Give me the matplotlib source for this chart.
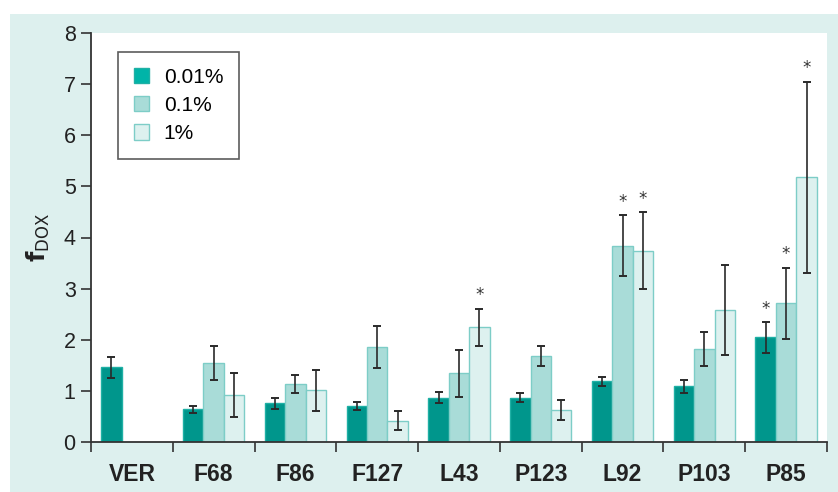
import matplotlib
matplotlib.use("Agg")
import matplotlib.pyplot as plt
from matplotlib.patches import Rectangle, Patch
import numpy as np

categories = ["VER", "F68", "F86", "F127", "L43", "P123", "L92", "P103", "P85"]
series_labels = ["0.01%", "0.1%", "1%"]

# mean fDOX per concentration (None = not measured)
vals_001 = [1.46, 0.64, 0.76, 0.71, 0.87, 0.87, 1.19, 1.09, 2.05]
vals_01 = [None, 1.54, 1.14, 1.85, 1.34, 1.68, 3.84, 1.82, 2.71]
vals_1 = [None, 0.91, 1.01, 0.42, 2.24, 0.63, 3.74, 2.58, 5.18]

err_001 = [0.21, 0.07, 0.11, 0.08, 0.11, 0.08, 0.09, 0.13, 0.30]
err_01 = [None, 0.33, 0.18, 0.41, 0.46, 0.19, 0.60, 0.33, 0.70]
err_1 = [None, 0.43, 0.40, 0.18, 0.37, 0.20, 0.75, 0.88, 1.87]

# significance markers
sig_001 = [False, False, False, False, False, False, False, False, True]
sig_01 = [False, False, False, False, False, False, True, False, True]
sig_1 = [False, False, False, False, True, False, True, False, True]

yticks = [0, 1, 2, 3, 4, 5, 6, 7, 8]

face_colors = ["#00968c", "#a9dcd8", "#ddf1ef"]
edge_colors = ["#1fb0a5", "#7dcdc7", "#7dcdc7"]
legend_face = ["#00b4a8", "#a9dcd8", "#ddf1ef"]
panel_color = "#ddf0ee"

fig = plt.figure(figsize=(8.38, 4.92), dpi=100)
fig.patch.set_facecolor("white")
panel = Rectangle((10 / 838, 0), 1 - 10 / 838, 1 - 14 / 492,
                  transform=fig.transFigure, facecolor=panel_color,
                  edgecolor="none", zorder=-10)
fig.add_artist(panel)

ax = fig.add_axes([91 / 838, 1 - 442 / 492, (827 - 91) / 838, (442 - 33) / 492])
ax.set_facecolor("white")
ax.set_zorder(1)

x = np.arange(len(categories))
w = 0.25
series = [(vals_001, err_001, sig_001), (vals_01, err_01, sig_01), (vals_1, err_1, sig_1)]
for i, (vals, errs, sigs) in enumerate(series):
    offs = (i - 1) * w
    for j, (v, e, s) in enumerate(zip(vals, errs, sigs)):
        if v is None:
            continue
        xpos = x[j] + offs
        if j == 0:
            xpos = x[j] - w  # reference compound bar
        ax.bar(xpos, v, width=w, color=face_colors[i], edgecolor=edge_colors[i],
               linewidth=1.0, zorder=2)
        ax.errorbar(xpos, v, yerr=e, fmt="none", ecolor="#2a2a2a",
                    elinewidth=1.2, capsize=3, capthick=1.4, zorder=3)
        if s:
            ax.annotate("*", (xpos, v + e), xytext=(0, 3), textcoords="offset points",
                        ha="center", va="bottom", fontsize=12, color="#333333")

ax.set_xlim(-0.5, len(categories) - 0.5)
ax.set_ylim(0, 8)
ax.set_yticks(yticks)
ax.set_yticklabels([str(t) for t in yticks], fontsize=15.5, color="#222222",
                   family="Liberation Sans")
ax.set_xticks(np.arange(len(categories) + 1) - 0.5)
ax.set_xticklabels([])
ax.set_xticks(x, minor=True)
ax.set_xticklabels(categories, minor=True, fontsize=16.5, fontweight="bold",
                   family="Liberation Sans", color="#222222")
ax.tick_params(axis="x", which="major", length=7, width=1.2, color="#333333", direction="out")
ax.tick_params(axis="x", which="minor", length=0, pad=15)
ax.tick_params(axis="y", length=7, width=1.2, color="#333333", direction="out", pad=4)

for sp in ["top", "right"]:
    ax.spines[sp].set_visible(False)
for sp in ["left", "bottom"]:
    ax.spines[sp].set_color("#333333")
    ax.spines[sp].set_linewidth(1.3)

ax.set_ylabel(r"$\mathbf{f}_{\mathrm{DOX}}$", fontsize=17, color="#222222", labelpad=8)

handles = [Patch(facecolor=legend_face[i], edgecolor=edge_colors[i], linewidth=1.0)
           for i in range(3)]
leg = ax.legend(handles, series_labels, loc="upper left",
                bbox_to_anchor=((118 - 91) / 736, (442 - 52) / 409),
                prop={"family": "Liberation Sans", "size": 15},
                frameon=True, fancybox=False, edgecolor="#333333",
                handlelength=0.75, handleheight=0.75, handletextpad=0.7,
                labelspacing=0.45, borderpad=0.75, borderaxespad=0)
leg.get_frame().set_linewidth(1.2)

fig.savefig("out.png", dpi=100, facecolor=fig.get_facecolor())
